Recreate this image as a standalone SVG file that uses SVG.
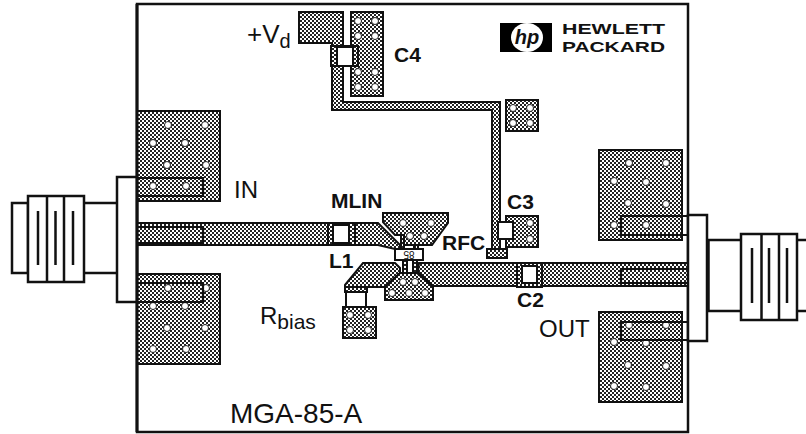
<svg xmlns="http://www.w3.org/2000/svg" width="806" height="434" viewBox="0 0 806 434">
<defs>
<pattern id="h" width="4" height="4" patternUnits="userSpaceOnUse"><rect width="4" height="4" fill="#fff"/><rect width="2" height="2" fill="#222"/><rect x="2" y="2" width="2" height="2" fill="#222"/></pattern>
</defs>
<style>
.m{fill:url(#h);stroke:#111;stroke-width:2}
.o{fill:#fff;stroke:#111;stroke-width:2}
.f{fill:none;stroke:#111;stroke-width:2.2}
.l{fill:none;stroke:#111;stroke-width:2.5}
.v{fill:#fff;stroke:#222;stroke-width:1}
text{font-family:"Liberation Sans",Arial,sans-serif;fill:#111}
.b{font-weight:bold;font-size:21px}
.r{font-size:24px}
</style>
<rect width="806" height="434" fill="#fff"/>
<rect id="board" x="137" y="4" width="551" height="428" fill="#fff" stroke="#111" stroke-width="2.5"/>

<g id="connectors">
<path class="m" d="M137 223H378L400 245V249H395L378 245H137Z"/>
<path class="m" d="M345 285L363 263H395L400 268V273L385 287H345Z"/>
<path class="m" d="M419 263H688V286H433L418 272Z"/>
<path class="m" d="M299 12H343V46H332V43H299Z"/>
<path class="m" d="M332 66H343V102H500V249H492V110H332Z"/>
<path class="m" d="M487 249H507V258H487Z"/>
<path class="m" d="M345 287H367V292H345Z"/>
<path class="m" d="M401 235H404V249H401ZM414 235H418V249H414Z"/>
<path class="m" d="M403 260H407V274H403ZM413 260H417V274H413Z"/>
</g>

<g id="pad-in-top"><rect class="m" x="137" y="111" width="83" height="90"/>
<circle class="v" cx="168" cy="125" r="3.500"/><circle class="v" cx="205" cy="125" r="3.500"/><circle class="v" cx="153" cy="143" r="3.500"/><circle class="v" cx="185" cy="143" r="3.500"/><circle class="v" cx="167" cy="165" r="3.500"/><circle class="v" cx="206" cy="165" r="3.500"/><circle class="v" cx="153" cy="186" r="3.500"/><circle class="v" cx="186" cy="186" r="3.500"/></g>
<g id="pad-in-bottom"><rect class="m" x="137" y="274" width="83" height="90"/>
<circle class="v" cx="168" cy="288" r="3.500"/><circle class="v" cx="206" cy="288" r="3.500"/><circle class="v" cx="153" cy="306" r="3.500"/><circle class="v" cx="185" cy="306" r="3.500"/><circle class="v" cx="167" cy="328" r="3.500"/><circle class="v" cx="205" cy="328" r="3.500"/><circle class="v" cx="153" cy="349" r="3.500"/><circle class="v" cx="186" cy="349" r="3.500"/></g>
<g id="pad-out-top"><rect class="m" x="599" y="150" width="83" height="90"/>
<circle class="v" cx="629" cy="163" r="3.500"/><circle class="v" cx="666" cy="163" r="3.500"/><circle class="v" cx="614" cy="181" r="3.500"/><circle class="v" cx="646" cy="182" r="3.500"/><circle class="v" cx="628" cy="203" r="3.500"/><circle class="v" cx="666" cy="204" r="3.500"/><circle class="v" cx="614" cy="225" r="3.500"/><circle class="v" cx="646" cy="225" r="3.500"/></g>
<g id="pad-out-bottom"><rect class="m" x="599" y="312" width="83" height="90"/>
<circle class="v" cx="629" cy="325" r="3.500"/><circle class="v" cx="666" cy="325" r="3.500"/><circle class="v" cx="614" cy="342" r="3.500"/><circle class="v" cx="646" cy="343" r="3.500"/><circle class="v" cx="628" cy="365" r="3.500"/><circle class="v" cx="666" cy="366" r="3.500"/><circle class="v" cx="614" cy="386" r="3.500"/><circle class="v" cx="646" cy="387" r="3.500"/></g>

<g id="connector-in">
<rect class="l" x="12" y="203" width="16" height="70"/>
<path class="l" d="M84 203H117M84 273H117"/>
<rect class="o" x="117" y="177" width="20" height="125" style="stroke-width:2.500"/>
<rect class="o" x="28" y="196" width="56" height="86" style="stroke-width:2.500"/>
<path class="l" d="M47 196V282M64 196V282M38 211V265M55.500 211V265M73 211V265"/>
<path class="f" d="M137 178H203V196H137M137 227H203V243H137M137 283H203V302H137"/>
<path d="M137 4V432" stroke="#111" stroke-width="3"/>
</g>
<g id="connector-out">
<path class="l" d="M708 240H741M708 311H741M797 240H806M797 311H806"/>
<rect class="o" x="688" y="215" width="19" height="126" style="stroke-width:2.500"/>
<path d="M708 240V311" stroke="#111" stroke-width="3.500"/>
<rect class="o" x="741" y="234" width="56" height="86" style="stroke-width:2.500"/>
<path class="l" d="M761.500 234V320M779 234V320M752 248V303M769 248V303M787 248V303"/>
<path class="f" d="M688 216H621V235H688M688 269H621V283H688M688 322H621V340H688"/>
</g>

<g id="pad-mlin"><path class="m" d="M383 213H448V223L432 245H404V235H395L383 222Z"/>
<circle class="v" cx="403" cy="223" r="3.500"/><circle class="v" cx="431" cy="223" r="3.500"/><circle class="v" cx="410" cy="236" r="3.500"/><circle class="v" cx="424" cy="236" r="3.500"/></g>
<g id="pad-source"><path class="m" d="M400 273H417L433 287V300H385V287Z"/>
<circle class="v" cx="403" cy="282" r="3.500"/><circle class="v" cx="415" cy="282" r="3.500"/><circle class="v" cx="392" cy="293" r="3.500"/><circle class="v" cx="409" cy="293" r="3.500"/><circle class="v" cx="425" cy="293" r="3.500"/></g>
<g id="device"><rect class="o" x="395" y="249" width="28" height="11"/>
<text transform="rotate(180 409 254.500)" x="409" y="258" font-size="10" text-anchor="middle">85</text></g>

<g id="L1"><rect class="m" x="328" y="223" width="27" height="22"/><rect class="o" x="333" y="225" width="16" height="18"/></g>
<g id="C2"><rect class="m" x="517" y="263" width="25" height="24"/><rect class="o" x="522" y="266" width="15" height="17"/></g>
<g id="C3"><rect class="m" x="506" y="216" width="32" height="31"/><circle class="v" cx="530" cy="223" r="3.500"/><circle class="v" cx="530" cy="239" r="3.500"/><rect class="o" x="498" y="222" width="15" height="17"/></g>
<g id="C4"><rect class="m" x="351" y="12" width="32" height="84"/>
<circle class="v" cx="358" cy="21" r="3.500"/><circle class="v" cx="375" cy="21" r="3.500"/><circle class="v" cx="358" cy="36" r="3.500"/><circle class="v" cx="375" cy="36" r="3.500"/><circle class="v" cx="358" cy="72" r="3.500"/><circle class="v" cx="375" cy="72" r="3.500"/><circle class="v" cx="358" cy="87" r="3.500"/><circle class="v" cx="375" cy="87" r="3.500"/>
<rect class="m" x="331" y="46" width="27" height="20"/><rect class="o" x="337" y="47" width="16" height="19"/></g>
<g id="pad-small"><rect class="m" x="506" y="100" width="32" height="31"/><circle class="v" cx="513" cy="108" r="3.500"/><circle class="v" cx="530" cy="108" r="3.500"/><circle class="v" cx="513" cy="123" r="3.500"/><circle class="v" cx="530" cy="123" r="3.500"/></g>
<g id="Rbias"><rect class="o" x="346" y="292" width="20" height="16"/><rect class="m" x="343" y="307" width="33" height="31"/><circle class="v" cx="350" cy="315" r="3.500"/><circle class="v" cx="368" cy="315" r="3.500"/><circle class="v" cx="350" cy="330" r="3.500"/><circle class="v" cx="368" cy="330" r="3.500"/></g>

<g id="logo">
<rect x="500" y="23" width="52" height="29" fill="#000"/>
<ellipse cx="527" cy="37.500" rx="16" ry="14.500" fill="#fff"/>
<text x="527" y="44" font-size="20" font-weight="bold" font-style="italic" text-anchor="middle" font-family="Liberation Serif">hp</text>
<text x="562" y="34" font-size="15" font-weight="bold" textLength="103" lengthAdjust="spacingAndGlyphs">HEWLETT</text>
<text x="562" y="52" font-size="15" font-weight="bold" textLength="103" lengthAdjust="spacingAndGlyphs">PACKARD</text>
</g>

<g id="labels">
<text class="r" x="247" y="43" font-size="26" style="font-size:26px">+V<tspan style="font-size:20px" dy="5">d</tspan></text>
<text class="r" x="234" y="198">IN</text>
<text class="b" x="331" y="208">MLIN</text>
<text class="b" x="329" y="268">L1</text>
<text class="b" x="442" y="250">RFC</text>
<text class="b" x="507" y="209">C3</text>
<text class="b" x="517" y="307">C2</text>
<text class="b" x="394" y="62">C4</text>
<text class="r" x="260" y="324">R<tspan style="font-size:21px" dy="5">bias</tspan></text>
<text class="r" x="539" y="337">OUT</text>
<text x="230" y="423" font-size="28">MGA-85-A</text>
</g>
</svg>
